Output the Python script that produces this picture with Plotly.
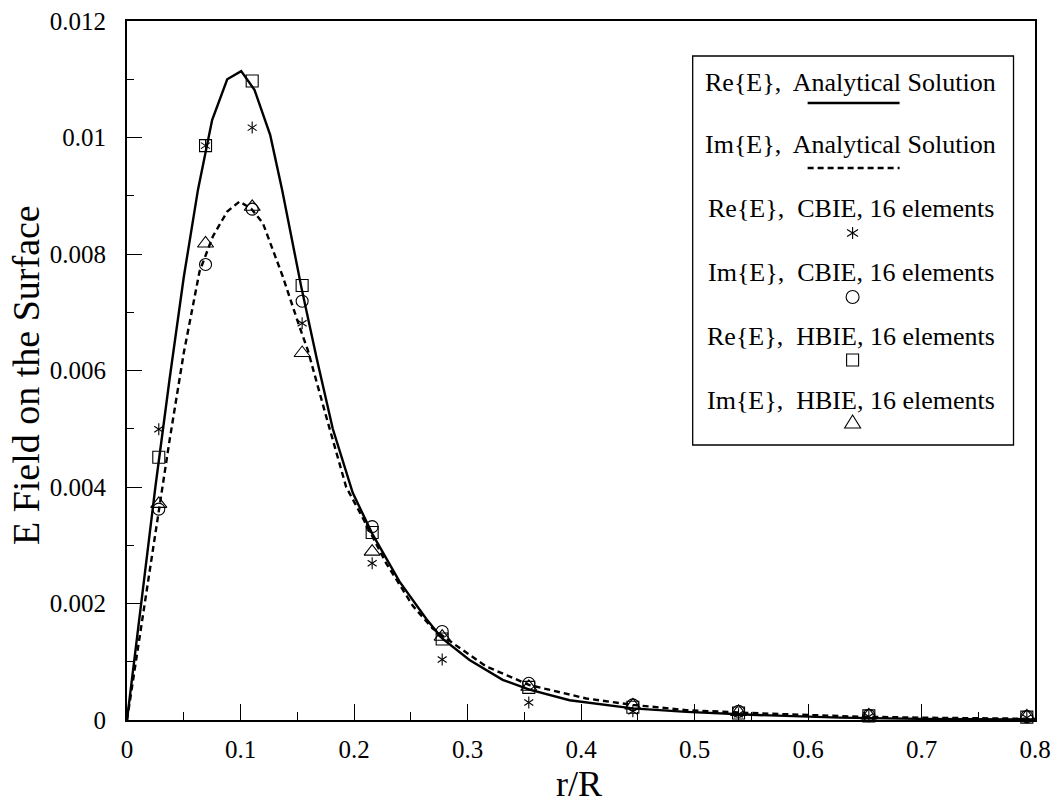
import plotly.graph_objects as go

# ---------------- data ----------------
# analytical solutions
ana_re_x = [0, 0.0125, 0.025, 0.0375, 0.05, 0.0625, 0.075, 0.0883,
            0.1006, 0.1123, 0.1262, 0.1367, 0.1535, 0.1672, 0.1813, 0.1989, 0.216, 0.240,
            0.2636, 0.2777, 0.3018, 0.331, 0.3546, 0.390, 0.4456, 0.4927, 0.55, 0.628,
            0.70, 0.80]
ana_re_y = [0, 0.0020, 0.0040, 0.00585, 0.0076, 0.0091, 0.0103, 0.0110,
            0.01114, 0.01082, 0.01004, 0.0091, 0.00744, 0.0062, 0.0050, 0.0039, 0.0032, 0.00238,
            0.00174, 0.0014, 0.00103, 0.00069, 0.00052, 0.00034, 0.0002, 0.00014, 0.00009, 0.00004,
            0.00002, 0.00001]

ana_im_x = [0, 0.0125, 0.025, 0.0375, 0.05, 0.0639, 0.0756, 0.0883,
            0.0991, 0.1094, 0.1197, 0.1285, 0.1373, 0.152, 0.1593, 0.1755, 0.1931, 0.2107,
            0.2284, 0.2518, 0.2694, 0.287, 0.3165, 0.3546, 0.4046, 0.4456, 0.4927, 0.55,
            0.64, 0.70, 0.80]
ana_im_y = [0, 0.0016, 0.0032, 0.0048, 0.0063, 0.0077, 0.0083, 0.00873,
            0.0089, 0.00878, 0.00853, 0.00807, 0.00761, 0.00675, 0.00635, 0.00521, 0.0040, 0.00336,
            0.00269, 0.00196, 0.00157, 0.00132, 0.00092, 0.0006, 0.00037, 0.00026, 0.00017, 0.00012,
            0.00006, 0.00004, 0.00002]

# numerical solutions (16 elements) at collocation points
r_pts = [0.028, 0.0692, 0.1103, 0.1543, 0.216, 0.2777, 0.354, 0.4457, 0.5388, 0.6536, 0.7928]
re_cbie = [0.00499, 0.00986, 0.01017, 0.00681, 0.00269, 0.00104, 0.00030, 0.00015, 0.00010, 0.00006, 0.00004]
im_cbie = [0.00362, 0.00782, 0.00877, 0.00719, 0.00332, 0.00152, 0.00063, 0.00026, 0.00015, 0.00008, 0.00006]
re_hbie = [0.00451, 0.00986, 0.01097, 0.00746, 0.00322, 0.00139, 0.00056, 0.00022, 0.00012, 0.00007, 0.00005]
im_hbie = [0.00371, 0.00818, 0.00881, 0.00630, 0.00289, 0.00143, 0.00057, 0.00025, 0.00014, 0.00008, 0.00006]

x_ticks = [0, 0.1, 0.2, 0.3, 0.4, 0.5, 0.6, 0.7, 0.8]
x_ticktext = ["0", "0.1", "0.2", "0.3", "0.4", "0.5", "0.6", "0.7", "0.8"]
y_ticks = [0, 0.002, 0.004, 0.006, 0.008, 0.010, 0.012]
y_ticktext = ["0", "0.002", "0.004", "0.006", "0.008", "0.01", "0.012"]

legend_texts = ["Re{E},\u00a0 Analytical Solution",
                "Im{E},\u00a0 Analytical Solution",
                "Re{E},\u00a0 CBIE, 16 elements",
                "Im{E},\u00a0 CBIE, 16 elements",
                "Re{E},\u00a0 HBIE, 16 elements",
                "Im{E},\u00a0 HBIE, 16 elements"]

# ---------------- layout geometry ----------------
W, H = 1053, 805
L, R, T, B = 127, 1035.5, 21, 720   # plot area in page pixels
FONT = "Liberation Serif, Times New Roman, serif"


def px2x(px):
    """page pixel -> paper x"""
    return (px - L) / (R - L)


def py2y(py):
    """page pixel -> paper y"""
    return (B - py) / (B - T)


fig = go.Figure()

fig.add_trace(go.Scatter(x=ana_re_x, y=ana_re_y, mode="lines",
                         line=dict(color="black", width=2.4), showlegend=False))
fig.add_trace(go.Scatter(x=ana_im_x, y=ana_im_y, mode="lines",
                         line=dict(color="black", width=2.4, dash="6px,4px"), showlegend=False))

mk_line = dict(color="black", width=1.1)
for sym in ["y-up-open", "y-down-open"]:
    fig.add_trace(go.Scatter(x=r_pts, y=re_cbie, mode="markers", cliponaxis=False,
                             marker=dict(symbol=sym, size=7.5, color="black", line=mk_line),
                             showlegend=False))
fig.add_trace(go.Scatter(x=r_pts, y=im_cbie, mode="markers", cliponaxis=False,
                         marker=dict(symbol="circle-open", size=12, color="black", line=mk_line),
                         showlegend=False))
fig.add_trace(go.Scatter(x=r_pts, y=re_hbie, mode="markers", cliponaxis=False,
                         marker=dict(symbol="square-open", size=12, color="black", line=mk_line),
                         showlegend=False))
fig.add_trace(go.Scatter(x=r_pts, y=im_hbie, mode="markers", cliponaxis=False,
                         marker=dict(symbol="triangle-up-open", size=14, color="black", line=mk_line),
                         showlegend=False))

# ---------------- custom legend ----------------
shapes = [dict(type="rect", xref="paper", yref="paper",
               x0=px2x(693), x1=px2x(1014), y0=py2y(445), y1=py2y(56),
               line=dict(color="black", width=1.3), fillcolor="rgba(0,0,0,0)")]
annotations = []
text_rows = [82, 144, 208, 272, 336, 400]
for t, yy in zip(legend_texts, text_rows):
    annotations.append(dict(text=t, xref="paper", yref="paper", x=px2x(851), y=py2y(yy),
                            xanchor="center", yanchor="middle", showarrow=False,
                            font=dict(family=FONT, size=26, color="black")))
# line samples
shapes.append(dict(type="line", xref="paper", yref="paper", x0=px2x(808), x1=px2x(900),
                   y0=py2y(103), y1=py2y(103), line=dict(color="black", width=2.4)))
shapes.append(dict(type="line", xref="paper", yref="paper", x0=px2x(808), x1=px2x(900),
                   y0=py2y(168), y1=py2y(168), line=dict(color="black", width=2.4, dash="6px,4px")))
cx = px2x(853)
# star
shapes.append(dict(type="path", xref="paper", yref="paper", xsizemode="pixel", ysizemode="pixel",
                   xanchor=cx, yanchor=py2y(233),
                   path="M0,-6 L0,6 M-5.5,-3.5 L5.5,3.5 M-5.5,3.5 L5.5,-3.5",
                   line=dict(color="black", width=1.1)))
# circle
shapes.append(dict(type="circle", xref="paper", yref="paper", xsizemode="pixel", ysizemode="pixel",
                   xanchor=cx, yanchor=py2y(297), x0=-6.5, x1=6.5, y0=-6.5, y1=6.5,
                   line=dict(color="black", width=1.1)))
# square
shapes.append(dict(type="rect", xref="paper", yref="paper", xsizemode="pixel", ysizemode="pixel",
                   xanchor=cx, yanchor=py2y(360), x0=-6, x1=6, y0=-6, y1=6,
                   line=dict(color="black", width=1.1)))
# triangle
shapes.append(dict(type="path", xref="paper", yref="paper", xsizemode="pixel", ysizemode="pixel",
                   xanchor=cx, yanchor=py2y(422),
                   path="M-8,-6 L8,-6 L0,7 Z",
                   line=dict(color="black", width=1.1)))

# axis titles
annotations.append(dict(text="r/R", xref="paper", yref="paper", x=px2x(579), y=py2y(784),
                        xanchor="center", yanchor="middle", showarrow=False,
                        font=dict(family=FONT, size=36, color="black")))
annotations.append(dict(text="E Field on the Surface", xref="paper", yref="paper",
                        x=px2x(26), y=py2y(375), textangle=-90,
                        xanchor="center", yanchor="middle", showarrow=False,
                        font=dict(family=FONT, size=38, color="black")))

axis_common = dict(showgrid=False, zeroline=False, showline=True, linewidth=2, linecolor="black",
                   mirror=True, ticks="inside", tickcolor="black", tickwidth=1.2, automargin=False,
                   tickfont=dict(family=FONT, size=25, color="black"))

fig.update_layout(
    width=W, height=H,
    margin=dict(l=L, r=W - R, t=T, b=H - B, pad=0, autoexpand=False),
    paper_bgcolor="white", plot_bgcolor="white",
    shapes=shapes, annotations=annotations, showlegend=False,
    xaxis=dict(range=[0, 0.8], tickmode="array", tickvals=x_ticks, ticktext=x_ticktext,
               ticklen=16, ticklabelstandoff=6,
               minor=dict(ticks="inside", ticklen=8, tickwidth=1.2, tickcolor="black",
                          tick0=0, dtick=0.05, showgrid=False),
               **axis_common),
    yaxis=dict(range=[0, 0.012], tickmode="array", tickvals=y_ticks, ticktext=y_ticktext,
               ticklen=15, ticklabelstandoff=14,
               minor=dict(ticks="inside", ticklen=7, tickwidth=1.2, tickcolor="black",
                          tick0=0, dtick=0.001, showgrid=False),
               **axis_common),
)

# remove the default 8px page margin so the figure fills the window exactly
fig.write_html("out.html", config={"displayModeBar": False},
               post_script="document.body.style.margin='0';document.body.style.overflow='hidden';")
